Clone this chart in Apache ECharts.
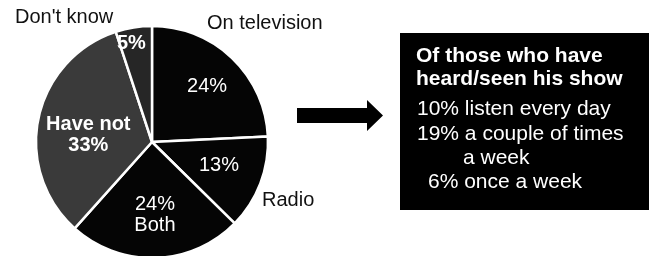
<!DOCTYPE html>
<html lang="en">
<head>
    <meta charset="UTF-8">
    <title>Pie</title>
    <style>
        html, body {margin:0; padding:0; background:#fff}
        #chart {width:649px; height:256px}
    </style>
    <script src="https://cdn.jsdelivr.net/npm/echarts@6/dist/echarts.min.js"></script>
</head>
<body>
    <div id="chart"></div>
    <script>
        // slices, clockwise from 12 o'clock
        const names = ['On television', 'Radio', 'Both', 'Have not', "Don't know"]
        const values = [24, 13, 24, 33, 5]
        const colors = ['#050505', '#050505', '#050505', '#3a3a3a', '#262626']
        // which slice names sit outside the pie
        const outsideNames = ['On television', 'Radio', "Don't know"]
        const boxLines = ['Of those who have', 'heard/seen his show', '10% listen every day',
            '19% a couple of times', 'a week', '6% once a week']

        const font = "'Liberation Sans', Arial, sans-serif"
        // nudges for the inside labels
        const labelOffsets = [[13, -11], [10, 2], [1, 12], [-4, 5], [-11, -38]]
        const outsidePos = {'On television': [207, 23], 'Radio': [262, 200], "Don't know": [15, 17]}

        let chart = echarts.init(document.getElementById('chart'))

        let pieData = names.map((name, i) => ({
            name: name,
            value: values[i],
            itemStyle: {color: colors[i]},
            label: {offset: labelOffsets[i]}
        }))

        let graphics = outsideNames.map(name => ({
            type: 'text',
            x: outsidePos[name][0],
            y: outsidePos[name][1],
            style: {text: name, fill: '#111', font: '20px ' + font, verticalAlign: 'middle'}
        }))

        graphics.push({
            type: 'polygon',
            shape: {points: [[297, 108], [367, 108], [367, 100], [383, 115.5], [367, 131], [367, 123], [297, 123]]},
            style: {fill: '#000'}
        })
        graphics.push({
            type: 'rect',
            shape: {x: 400, y: 33, width: 249, height: 177},
            style: {fill: '#000'}
        })
        const lineX = [416, 416, 417, 417, 463, 428]
        const lineY = [56, 79, 109, 134, 158, 182]
        boxLines.forEach((t, i) => {
            graphics.push({
                type: 'text',
                x: lineX[i],
                y: lineY[i],
                style: {
                    text: t, fill: '#fff', verticalAlign: 'middle',
                    font: (i < 2 ? 'bold 21px ' : '21px ') + font
                }
            })
        })

        chart.setOption({
            animation: false,
            series: [{
                type: 'pie',
                center: [152, 142],
                radius: 116,
                startAngle: 90,
                clockwise: true,
                avoidLabelOverlap: false,
                itemStyle: {borderColor: '#fff', borderWidth: 2.5},
                label: {
                    position: 'inside',
                    color: '#fff',
                    fontFamily: font,
                    fontSize: 20,
                    lineHeight: 21,
                    formatter: p => {
                        if (p.name === 'Both') return p.value + '%\n' + p.name
                        if (p.name === 'Have not') return '{b|' + p.name + '\n' + p.value + '%}'
                        if (p.name === "Don't know") return '{b|' + p.value + '%}'
                        return p.value + '%'
                    },
                    rich: {b: {fontWeight: 'bold', fontSize: 20, lineHeight: 21, color: '#fff', fontFamily: font}}
                },
                labelLine: {show: false},
                emphasis: {disabled: true},
                data: pieData
            }],
            graphic: graphics
        })
    </script>
</body>
</html>
